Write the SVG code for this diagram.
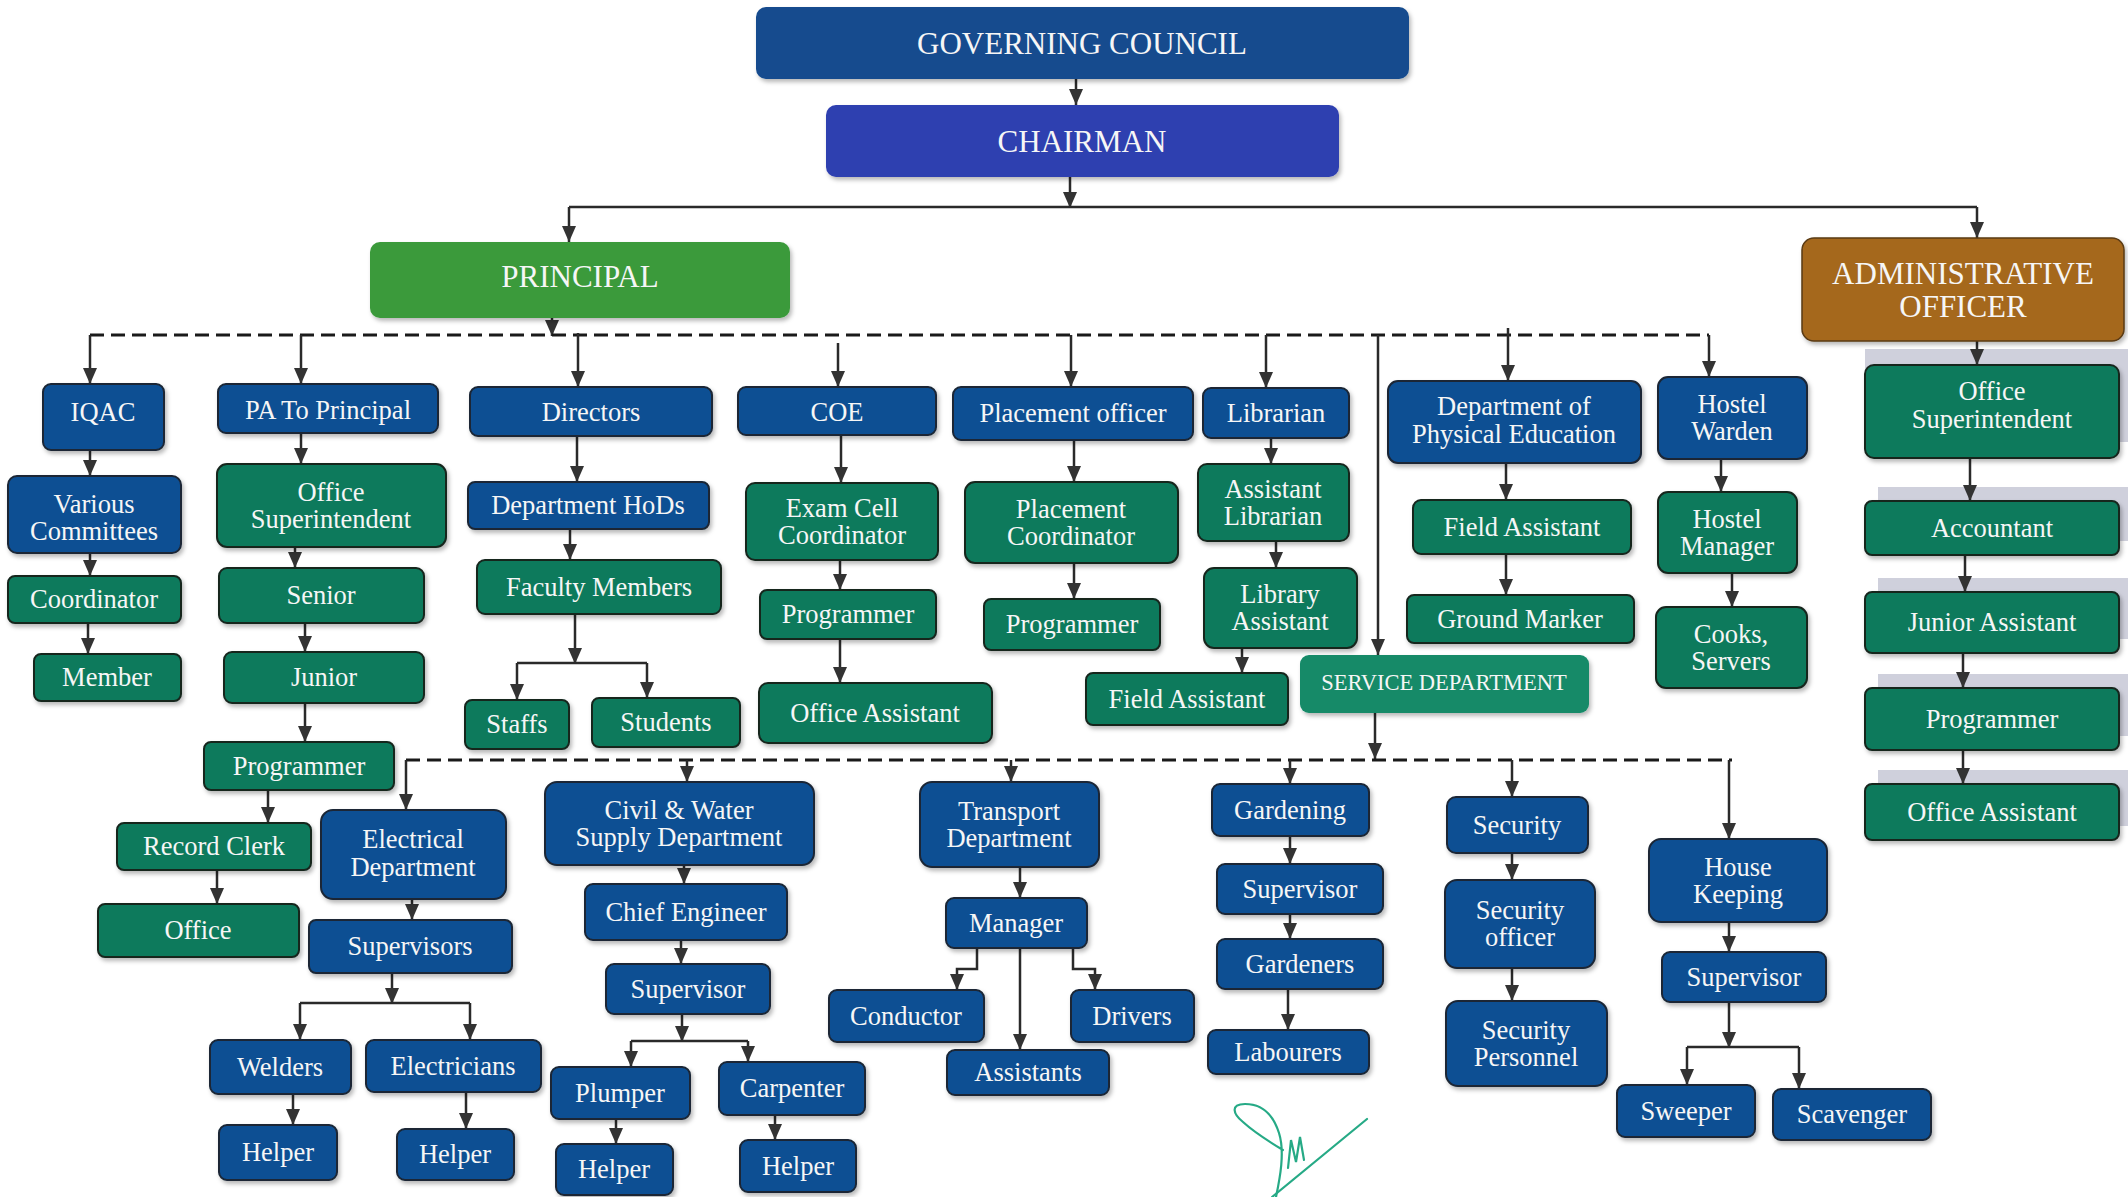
<svg xmlns="http://www.w3.org/2000/svg" width="2128" height="1197" viewBox="0 0 2128 1197">
<defs>
<style>
.b{fill:#0f4f93;stroke:#1a2636;stroke-width:2}
.g{fill:#0c7a5c;stroke:#16261f;stroke-width:2}
.top{stroke:none}
rect{filter:url(#sh)}
text{font-family:"Liberation Serif","Times New Roman",serif;fill:#f6f6f6;text-anchor:middle;font-size:26.5px}
.big{font-size:31px}
.svc{font-size:22.5px}
.ln{fill:none;stroke:#2a2a2a;stroke-width:2.5}
.ar{fill:none;stroke:#2a2a2a;stroke-width:2.5;marker-end:url(#ah)}
.ds{fill:none;stroke:#1a1a1a;stroke-width:3;stroke-dasharray:14 7}
.band{fill:#cfd0dc;filter:none}
</style>
<marker id="ah" markerUnits="userSpaceOnUse" markerWidth="16" markerHeight="14" refX="16" refY="7" orient="auto">
<path d="M0,0 L16,7 L0,14 z" fill="#333"/>
</marker>
<filter id="sh" x="-10%" y="-10%" width="130%" height="150%">
<feDropShadow dx="2" dy="3" stdDeviation="2" flood-color="#000" flood-opacity="0.28"/>
</filter>
</defs>
<rect width="2128" height="1197" fill="#ffffff" style="filter:none"/>

<g id="admin-bands">
<rect class="band" x="1865" y="349" width="263" height="93"/>
<rect class="band" x="1878" y="487" width="250" height="54"/>
<rect class="band" x="1878" y="578" width="250" height="61"/>
<rect class="band" x="1878" y="674" width="250" height="62"/>
<rect class="band" x="1878" y="770" width="250" height="56"/>
</g>

<g id="connectors">
<path class="ar" d="M1076,79 V105"/>
<path class="ar" d="M1070,177 V208"/>
<path class="ln" d="M569,207 H1977"/>
<path class="ar" d="M569,207 V242"/>
<path class="ar" d="M1977,207 V238"/>
<path class="ar" d="M552,318 V336"/>
<path class="ds" d="M90,335 H1709"/>
<path class="ar" d="M90,335 V384"/>
<path class="ar" d="M301,335 V384"/>
<path class="ar" d="M578,333 V387"/>
<path class="ar" d="M838,343 V387"/>
<path class="ar" d="M1071,335 V387"/>
<path class="ar" d="M1266,335 V388"/>
<path class="ar" d="M1508,328 V381"/>
<path class="ar" d="M1709,335 V377"/>
<path class="ar" d="M1378,335 V655"/>
<path class="ar" d="M90,450 V476"/>
<path class="ar" d="M90,553 V576"/>
<path class="ar" d="M88,623 V654"/>
<path class="ar" d="M301,433 V464"/>
<path class="ar" d="M295,547 V568"/>
<path class="ar" d="M305,623 V652"/>
<path class="ar" d="M305,703 V742"/>
<path class="ar" d="M268,790 V823"/>
<path class="ar" d="M217,870 V904"/>
<path class="ar" d="M577,436 V482"/>
<path class="ar" d="M570,529 V560"/>
<path class="ar" d="M575,614 V664"/>
<path class="ln" d="M517,663 H647"/>
<path class="ar" d="M517,663 V700"/>
<path class="ar" d="M647,663 V698"/>
<path class="ar" d="M841,435 V483"/>
<path class="ar" d="M840,560 V590"/>
<path class="ar" d="M840,639 V683"/>
<path class="ar" d="M1074,440 V482"/>
<path class="ar" d="M1074,563 V599"/>
<path class="ar" d="M1271,438 V464"/>
<path class="ar" d="M1276,541 V568"/>
<path class="ar" d="M1242,648 V673"/>
<path class="ar" d="M1506,463 V500"/>
<path class="ar" d="M1506,554 V595"/>
<path class="ar" d="M1721,459 V492"/>
<path class="ar" d="M1732,573 V607"/>
<path class="ar" d="M1977,341 V365"/>
<path class="ar" d="M1970,458 V501"/>
<path class="ar" d="M1965,555 V592"/>
<path class="ar" d="M1963,653 V688"/>
<path class="ar" d="M1963,750 V784"/>
<path class="ar" d="M1375,713 V759"/>
<path class="ds" d="M406,760 H1732"/>
<path class="ar" d="M406,760 V810"/>
<path class="ar" d="M687,760 V782"/>
<path class="ar" d="M1011,760 V782"/>
<path class="ar" d="M1290,760 V784"/>
<path class="ar" d="M1512,760 V797"/>
<path class="ar" d="M1729,760 V839"/>
<path class="ar" d="M412,899 V920"/>
<path class="ar" d="M392,973 V1004"/>
<path class="ln" d="M300,1003 H470"/>
<path class="ar" d="M300,1003 V1040"/>
<path class="ar" d="M470,1003 V1040"/>
<path class="ar" d="M293,1094 V1125"/>
<path class="ar" d="M466,1092 V1129"/>
<path class="ar" d="M684,865 V884"/>
<path class="ar" d="M681,940 V964"/>
<path class="ar" d="M682,1014 V1042"/>
<path class="ln" d="M631,1041 H748"/>
<path class="ar" d="M631,1041 V1067"/>
<path class="ar" d="M748,1041 V1062"/>
<path class="ar" d="M616,1119 V1144"/>
<path class="ar" d="M775,1115 V1140"/>
<path class="ar" d="M1020,867 V898"/>
<path class="ar" d="M977,948 V969 H957 V990"/>
<path class="ar" d="M1020,948 V1050"/>
<path class="ar" d="M1073,948 V969 H1095 V990"/>
<path class="ar" d="M1290,836 V864"/>
<path class="ar" d="M1290,914 V939"/>
<path class="ar" d="M1288,989 V1030"/>
<path class="ar" d="M1512,853 V880"/>
<path class="ar" d="M1512,968 V1001"/>
<path class="ar" d="M1729,922 V952"/>
<path class="ar" d="M1729,1002 V1048"/>
<path class="ln" d="M1687,1047 H1799"/>
<path class="ar" d="M1687,1047 V1085"/>
<path class="ar" d="M1799,1047 V1089"/>
</g>

<g id="governing-council"><rect class="top" x="756" y="7" width="653" height="72" rx="10" fill="#144b8e"/><text class="big" x="1082" y="54">GOVERNING COUNCIL</text></g>
<g id="chairman"><rect class="top" x="826" y="105" width="513" height="72" rx="10" fill="#2f3fb0"/><text class="big" x="1082" y="152">CHAIRMAN</text></g>
<g id="principal"><rect class="top" x="370" y="242" width="420" height="76" rx="10" fill="#3b9a3b"/><text class="big" x="580" y="287">PRINCIPAL</text></g>
<g id="administrative-officer"><rect x="1802" y="238" width="322" height="103" rx="12" fill="#a5681f" stroke="#5a3a12" stroke-width="1.5"/><text class="big" x="1963" y="284">ADMINISTRATIVE</text><text class="big" x="1963" y="317">OFFICER</text></g>

<g id="iqac"><rect class="b" x="43" y="384" width="121" height="66" rx="8"/><text x="103" y="421">IQAC</text></g>
<g id="pa-to-principal"><rect class="b" x="218" y="384" width="220" height="49" rx="8"/><text x="328" y="419">PA To Principal</text></g>
<g id="directors"><rect class="b" x="470" y="387" width="242" height="49" rx="8"/><text x="591" y="421">Directors</text></g>
<g id="coe"><rect class="b" x="738" y="387" width="198" height="48" rx="8"/><text x="837" y="421">COE</text></g>
<g id="placement-officer"><rect class="b" x="953" y="387" width="240" height="53" rx="8"/><text x="1073" y="422">Placement officer</text></g>
<g id="librarian"><rect class="b" x="1203" y="388" width="146" height="50" rx="8"/><text x="1276" y="422">Librarian</text></g>
<g id="dept-physical-education"><rect class="b" x="1388" y="381" width="253" height="82" rx="10"/><text x="1514" y="415">Department of</text><text x="1514" y="443">Physical Education</text></g>
<g id="hostel-warden"><rect class="b" x="1658" y="377" width="149" height="82" rx="10"/><text x="1732" y="413">Hostel</text><text x="1732" y="440">Warden</text></g>
<g id="admin-office-superintendent"><rect class="g" x="1865" y="365" width="254" height="93" rx="9"/><text x="1992" y="400">Office</text><text x="1992" y="428">Superintendent</text></g>

<g id="various-committees"><rect class="b" x="8" y="476" width="173" height="77" rx="9"/><text x="94" y="513">Various</text><text x="94" y="540">Committees</text></g>
<g id="coordinator"><rect class="g" x="8" y="576" width="173" height="47" rx="7"/><text x="94" y="608">Coordinator</text></g>
<g id="member"><rect class="g" x="34" y="654" width="147" height="47" rx="7"/><text x="107" y="686">Member</text></g>

<g id="pa-office-superintendent"><rect class="g" x="217" y="464" width="229" height="83" rx="10"/><text x="331" y="501">Office</text><text x="331" y="528">Superintendent</text></g>
<g id="senior"><rect class="g" x="219" y="568" width="205" height="55" rx="8"/><text x="321" y="604">Senior</text></g>
<g id="junior"><rect class="g" x="224" y="652" width="200" height="51" rx="8"/><text x="324" y="686">Junior</text></g>
<g id="pa-programmer"><rect class="g" x="204" y="742" width="190" height="48" rx="7"/><text x="299" y="775">Programmer</text></g>
<g id="record-clerk"><rect class="g" x="117" y="823" width="194" height="47" rx="7"/><text x="214" y="855">Record Clerk</text></g>
<g id="office"><rect class="g" x="98" y="904" width="201" height="53" rx="7"/><text x="198" y="939">Office</text></g>

<g id="department-hods"><rect class="b" x="468" y="482" width="241" height="47" rx="7"/><text x="588" y="514">Department HoDs</text></g>
<g id="faculty-members"><rect class="g" x="477" y="560" width="244" height="54" rx="8"/><text x="599" y="596">Faculty Members</text></g>
<g id="staffs"><rect class="g" x="465" y="700" width="104" height="49" rx="7"/><text x="517" y="733">Staffs</text></g>
<g id="students"><rect class="g" x="592" y="698" width="148" height="49" rx="7"/><text x="666" y="731">Students</text></g>

<g id="exam-cell-coordinator"><rect class="g" x="746" y="483" width="192" height="77" rx="9"/><text x="842" y="517">Exam Cell</text><text x="842" y="544">Coordinator</text></g>
<g id="coe-programmer"><rect class="g" x="760" y="590" width="176" height="49" rx="7"/><text x="848" y="623">Programmer</text></g>
<g id="coe-office-assistant"><rect class="g" x="759" y="683" width="233" height="60" rx="9"/><text x="875" y="722">Office Assistant</text></g>

<g id="placement-coordinator"><rect class="g" x="965" y="482" width="213" height="81" rx="10"/><text x="1071" y="518">Placement</text><text x="1071" y="545">Coordinator</text></g>
<g id="placement-programmer"><rect class="g" x="984" y="599" width="176" height="51" rx="7"/><text x="1072" y="633">Programmer</text></g>

<g id="assistant-librarian"><rect class="g" x="1198" y="464" width="151" height="77" rx="9"/><text x="1273" y="498">Assistant</text><text x="1273" y="525">Librarian</text></g>
<g id="library-assistant"><rect class="g" x="1204" y="568" width="153" height="80" rx="10"/><text x="1280" y="603">Library</text><text x="1280" y="630">Assistant</text></g>
<g id="library-field-assistant"><rect class="g" x="1086" y="673" width="202" height="52" rx="7"/><text x="1187" y="708">Field Assistant</text></g>

<g id="service-department"><rect x="1300" y="655" width="289" height="58" rx="9" fill="#138a68"/><text class="svc" x="1444" y="690">SERVICE DEPARTMENT</text></g>

<g id="pe-field-assistant"><rect class="g" x="1413" y="500" width="218" height="54" rx="8"/><text x="1522" y="536">Field Assistant</text></g>
<g id="ground-marker"><rect class="g" x="1407" y="595" width="227" height="48" rx="7"/><text x="1520" y="628">Ground Marker</text></g>

<g id="hostel-manager"><rect class="g" x="1658" y="492" width="139" height="81" rx="10"/><text x="1727" y="528">Hostel</text><text x="1727" y="555">Manager</text></g>
<g id="cooks-servers"><rect class="g" x="1656" y="607" width="151" height="81" rx="10"/><text x="1731" y="643">Cooks,</text><text x="1731" y="670">Servers</text></g>

<g id="accountant"><rect class="g" x="1865" y="501" width="254" height="54" rx="7"/><text x="1992" y="537">Accountant</text></g>
<g id="junior-assistant"><rect class="g" x="1865" y="592" width="254" height="61" rx="7"/><text x="1992" y="631">Junior Assistant</text></g>
<g id="admin-programmer"><rect class="g" x="1865" y="688" width="254" height="62" rx="7"/><text x="1992" y="728">Programmer</text></g>
<g id="admin-office-assistant"><rect class="g" x="1865" y="784" width="254" height="56" rx="7"/><text x="1992" y="821">Office Assistant</text></g>

<g id="electrical-department"><rect class="b" x="321" y="810" width="185" height="89" rx="12"/><text x="413" y="848">Electrical</text><text x="413" y="876">Department</text></g>
<g id="supervisors"><rect class="b" x="309" y="920" width="203" height="53" rx="7"/><text x="410" y="955">Supervisors</text></g>
<g id="welders"><rect class="b" x="210" y="1040" width="141" height="54" rx="8"/><text x="280" y="1076">Welders</text></g>
<g id="electricians"><rect class="b" x="366" y="1040" width="175" height="52" rx="8"/><text x="453" y="1075">Electricians</text></g>
<g id="welders-helper"><rect class="b" x="219" y="1125" width="118" height="55" rx="8"/><text x="278" y="1161">Helper</text></g>
<g id="electricians-helper"><rect class="b" x="397" y="1129" width="117" height="51" rx="8"/><text x="455" y="1163">Helper</text></g>

<g id="civil-water-supply"><rect class="b" x="545" y="782" width="269" height="83" rx="12"/><text x="679" y="819">Civil &amp; Water</text><text x="679" y="846">Supply Department</text></g>
<g id="chief-engineer"><rect class="b" x="585" y="884" width="202" height="56" rx="8"/><text x="686" y="921">Chief Engineer</text></g>
<g id="civil-supervisor"><rect class="b" x="606" y="964" width="164" height="50" rx="8"/><text x="688" y="998">Supervisor</text></g>
<g id="plumper"><rect class="b" x="551" y="1067" width="139" height="52" rx="8"/><text x="620" y="1102">Plumper</text></g>
<g id="carpenter"><rect class="b" x="719" y="1062" width="146" height="53" rx="8"/><text x="792" y="1097">Carpenter</text></g>
<g id="plumper-helper"><rect class="b" x="556" y="1144" width="117" height="51" rx="8"/><text x="614" y="1178">Helper</text></g>
<g id="carpenter-helper"><rect class="b" x="740" y="1140" width="116" height="52" rx="8"/><text x="798" y="1175">Helper</text></g>

<g id="transport-department"><rect class="b" x="920" y="782" width="179" height="85" rx="12"/><text x="1009" y="820">Transport</text><text x="1009" y="847">Department</text></g>
<g id="manager"><rect class="b" x="946" y="898" width="141" height="50" rx="8"/><text x="1016" y="932">Manager</text></g>
<g id="conductor"><rect class="b" x="829" y="990" width="155" height="52" rx="8"/><text x="906" y="1025">Conductor</text></g>
<g id="assistants"><rect class="b" x="947" y="1050" width="162" height="45" rx="8"/><text x="1028" y="1081">Assistants</text></g>
<g id="drivers"><rect class="b" x="1071" y="990" width="123" height="52" rx="8"/><text x="1132" y="1025">Drivers</text></g>

<g id="gardening"><rect class="b" x="1212" y="784" width="157" height="52" rx="8"/><text x="1290" y="819">Gardening</text></g>
<g id="gardening-supervisor"><rect class="b" x="1217" y="864" width="166" height="50" rx="8"/><text x="1300" y="898">Supervisor</text></g>
<g id="gardeners"><rect class="b" x="1217" y="939" width="166" height="50" rx="8"/><text x="1300" y="973">Gardeners</text></g>
<g id="labourers"><rect class="b" x="1208" y="1030" width="161" height="44" rx="8"/><text x="1288" y="1061">Labourers</text></g>

<g id="security"><rect class="b" x="1447" y="797" width="141" height="56" rx="9"/><text x="1517" y="834">Security</text></g>
<g id="security-officer"><rect class="b" x="1445" y="880" width="150" height="88" rx="12"/><text x="1520" y="919">Security</text><text x="1520" y="946">officer</text></g>
<g id="security-personnel"><rect class="b" x="1446" y="1001" width="161" height="85" rx="12"/><text x="1526" y="1039">Security</text><text x="1526" y="1066">Personnel</text></g>

<g id="house-keeping"><rect class="b" x="1649" y="839" width="178" height="83" rx="12"/><text x="1738" y="876">House</text><text x="1738" y="903">Keeping</text></g>
<g id="hk-supervisor"><rect class="b" x="1662" y="952" width="164" height="50" rx="8"/><text x="1744" y="986">Supervisor</text></g>
<g id="sweeper"><rect class="b" x="1617" y="1085" width="138" height="52" rx="8"/><text x="1686" y="1120">Sweeper</text></g>
<g id="scavenger"><rect class="b" x="1773" y="1089" width="158" height="51" rx="8"/><text x="1852" y="1123">Scavenger</text></g>

<g id="signature" fill="none" stroke="#26aa86" stroke-width="2.2" stroke-linecap="round">
<path d="M1276,1197 C1280,1178 1285,1152 1279,1133 C1273,1114 1262,1104 1245,1104 C1230,1104 1233,1114 1243,1122 C1254,1132 1268,1141 1283,1150"/>
<path d="M1288,1168 L1291,1140 L1296,1162 L1300,1137 L1304,1160"/>
<path d="M1272,1197 L1367,1119"/>
</g>
</svg>
